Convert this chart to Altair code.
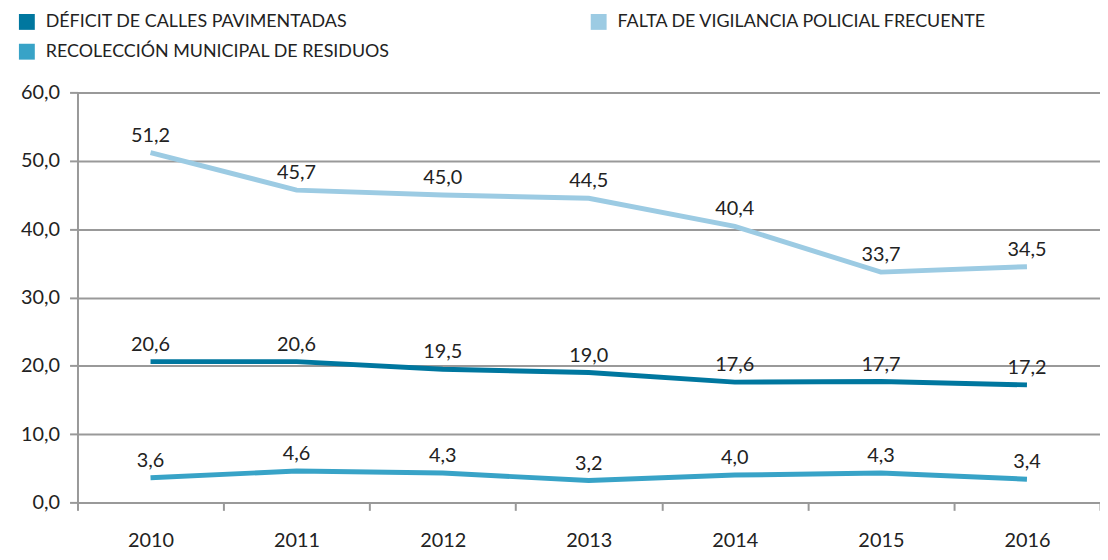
import altair as alt
import pandas as pd

years = ["2010", "2011", "2012", "2013", "2014", "2015", "2016"]
series_names = [
    "DÉFICIT DE CALLES PAVIMENTADAS",
    "FALTA DE VIGILANCIA POLICIAL FRECUENTE",
    "RECOLECCIÓN MUNICIPAL DE RESIDUOS",
]
deficit = [20.6, 20.6, 19.5, 19.0, 17.6, 17.7, 17.2]
falta = [51.2, 45.7, 45.0, 44.5, 40.4, 33.7, 34.5]
recoleccion = [3.6, 4.6, 4.3, 3.2, 4.0, 4.3, 3.4]
colors = ["#00779f", "#9ccbe3", "#38a3c7"]

rows = []
for name, vals in zip(series_names, [deficit, falta, recoleccion]):
    for y, v in zip(years, vals):
        rows.append({"year": y, "serie": name, "value": v})
df = pd.DataFrame(rows)

FONT = "Lato"

x = alt.X(
    "year:O",
    scale=alt.Scale(type="band", paddingInner=0, paddingOuter=0),
    bandPosition=0.5,
    axis=alt.Axis(
        title=None, labelAngle=0, tickBand="extent", domainColor="#999999",
        domainWidth=2, tickColor="#999999", tickWidth=2, tickSize=8,
        labelFontSize=20, labelPadding=20, labelColor="#222222", labelFont=FONT,
        grid=False,
    ),
)
y = alt.Y(
    "value:Q",
    scale=alt.Scale(domain=[0, 60], nice=False),
    axis=alt.Axis(
        title=None, values=[0, 10, 20, 30, 40, 50, 60],
        labelExpr="replace(format(datum.value, '.1f'), '.', ',')",
        grid=True, gridColor="#999999", gridWidth=2,
        domainColor="#999999", domainWidth=2,
        tickColor="#999999", tickWidth=2, tickSize=8,
        labelFontSize=20, labelPadding=10, labelColor="#222222", labelFont=FONT,
    ),
)
color = alt.Color(
    "serie:N",
    scale=alt.Scale(domain=series_names, range=colors),
    legend=alt.Legend(
        title=None, orient="none", legendX=-60, legendY=-80, columns=2,
        direction="horizontal",
        symbolType="square", symbolSize=64, symbolStrokeWidth=8,
        labelFontSize=18, labelFont=FONT, labelColor="#222222",
        columnPadding=190, rowPadding=-10, labelOffset=10, symbolOpacity=1,
        labelLimit=600,
    ),
)

base = alt.Chart(df)
lines = base.mark_line(strokeWidth=5).encode(x=x, y=y, color=color)
labels = base.transform_calculate(
    label="replace(format(datum.value, '.1f'), '.', ',')"
).mark_text(dy=-17, fontSize=20, font=FONT, color="#222222").encode(
    x=x, y=y, text="label:N"
)

chart = (
    alt.layer(lines, labels)
    .properties(
        width=1030, height=413,
        autosize=alt.AutoSizeParams(type="none"),
        padding={"left": 70, "top": 83, "right": 0, "bottom": 55},
    )
    .configure_view(stroke=None)
    .configure(background="white")
)
chart.save("out.html", embed_options={"renderer": "svg", "actions": False})
